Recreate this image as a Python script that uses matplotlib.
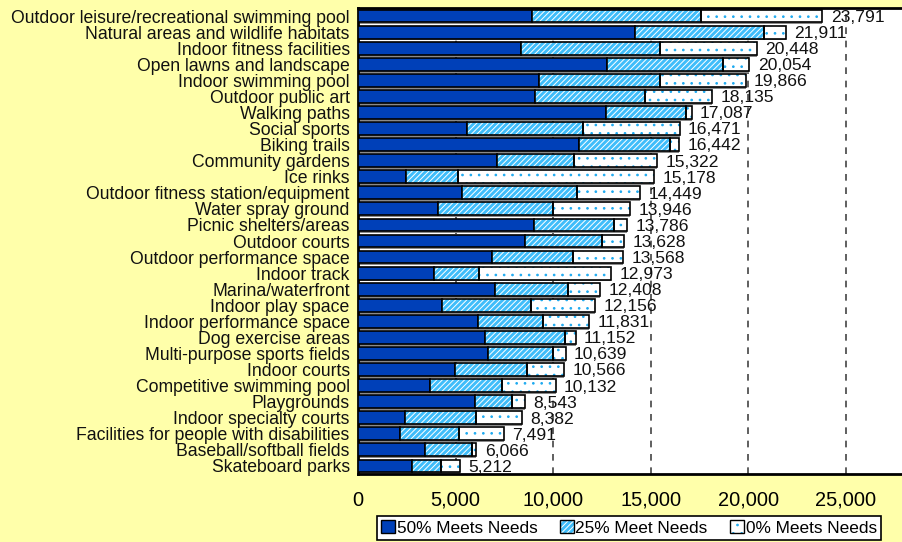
import matplotlib.pyplot as plt
from matplotlib.patches import Patch

plt.rcParams['font.family'] = ['Liberation Sans', 'DejaVu Sans']
plt.rcParams['hatch.linewidth'] = 0.7

categories = ["Outdoor leisure/recreational swimming pool", "Natural areas and wildlife habitats",
              "Indoor fitness facilities", "Open lawns and landscape", "Indoor swimming pool",
              "Outdoor public art", "Walking paths", "Social sports", "Biking trails",
              "Community gardens", "Ice rinks", "Outdoor fitness station/equipment",
              "Water spray ground", "Picnic shelters/areas", "Outdoor courts",
              "Outdoor performance space", "Indoor track", "Marina/waterfront",
              "Indoor play space", "Indoor performance space", "Dog exercise areas",
              "Multi-purpose sports fields", "Indoor courts", "Competitive swimming pool",
              "Playgrounds", "Indoor specialty courts", "Facilities for people with disabilities",
              "Baseball/softball fields", "Skateboard parks"]
meets50 = [8900, 14210, 8370, 12780, 9290, 9070, 12700, 5560, 11330, 7140, 2470, 5350, 4110, 9030,
           8570, 6880, 3870, 7000, 4280, 6140, 6530, 6650, 4990, 3700, 5980, 2400, 2130, 3410, 2780]
meets25 = [8690, 6600, 7120, 5930, 6190, 5620, 4100, 5960, 4670, 3920, 2660, 5850, 5880, 4110,
           3940, 4150, 2350, 3770, 4570, 3330, 4100, 3350, 3690, 3700, 1930, 3650, 3070, 2440, 1460]
meets0 = [6201, 1101, 4958, 1344, 4386, 3445, 287, 4951, 442, 4262, 10048, 3249, 3956, 646,
          1118, 2538, 6753, 1638, 3306, 2361, 522, 639, 1886, 2732, 633, 2332, 2291, 216, 972]
totals = [a + b + c for a, b, c in zip(meets50, meets25, meets0)]
series_names = ["50% Meets Needs", "25% Meet Needs", "0% Meets Needs"]

fig = plt.figure(figsize=(9.02, 5.42), dpi=100)
fig.patch.set_facecolor("#FFFFAA")
ax = fig.add_axes([358 / 902, 1 - 474 / 542, 1 - 358 / 902, 466 / 542])

y = list(range(len(categories)))
h = 0.8
# gray shadow under bars
ax.barh([v + 0.12 for v in y], totals, left=0, height=h, color="#8a8a8a", zorder=2)

left2 = meets50
left3 = [a + b for a, b in zip(meets50, meets25)]
ax.barh(y, meets50, height=h, color="#0040B8", edgecolor="black", linewidth=1.2, zorder=3)
ax.barh(y, meets25, left=left2, height=h, color="#3FBDFA", edgecolor="white", linewidth=0,
        hatch="//////", zorder=3)
ax.barh(y, meets25, left=left2, height=h, fill=False, edgecolor="black", linewidth=1.2, zorder=4)
ax.barh(y, meets0, left=left3, height=h, color="white", edgecolor="#1EAAF0", linewidth=0,
        hatch="..", zorder=3)
ax.barh(y, meets0, left=left3, height=h, fill=False, edgecolor="black", linewidth=1.2, zorder=4)

for yi, t in zip(y, totals):
    ax.annotate(f"{t:,}", xy=(t, yi), xytext=(6, -1), textcoords="offset points",
                va="center", ha="left", fontsize=12.6, color="#111111", zorder=5)

ax.set_xlim(0, 27870)
ax.set_ylim(len(categories) - 0.5, -0.5)
ax.set_yticks(y)
ax.set_yticklabels(categories, fontsize=12.7, color="#111111")
ax.set_xticks([0, 5000, 10000, 15000, 20000, 25000])
ax.set_xticklabels(["0", "5,000", "10,000", "15,000", "20,000", "25,000"], fontsize=14.4)
ax.tick_params(axis="y", length=0, pad=6)
ax.tick_params(axis="x", length=0, pad=12)
ax.xaxis.grid(True, linestyle=(0, (4, 4)), color="#444444", linewidth=1.2, zorder=1)
ax.set_axisbelow(True)
for s in ["top", "left", "bottom"]:
    ax.spines[s].set_linewidth(2)
    ax.spines[s].set_color("black")
ax.spines["right"].set_visible(False)

handles = [
    Patch(facecolor="#0040B8", edgecolor="black", linewidth=1),
    (Patch(facecolor="#3FBDFA", edgecolor="white", linewidth=0, hatch="//////"),
     Patch(fill=False, edgecolor="black", linewidth=1)),
    (Patch(facecolor="white", edgecolor="#1EAAF0", linewidth=0, hatch=".."),
     Patch(fill=False, edgecolor="black", linewidth=1)),
]
leg = fig.legend(handles, series_names, loc="upper left", bbox_to_anchor=(377 / 902, 1 - 516 / 542),
                 ncol=3, fontsize=12.4, frameon=True, fancybox=False, framealpha=1,
                 edgecolor="black", handlelength=0.8, handleheight=0.8, handletextpad=0.1,
                 columnspacing=1.3, borderpad=0.25, borderaxespad=0)
leg.get_frame().set_linewidth(1.2)

fig.savefig("out.png", dpi=100, facecolor=fig.get_facecolor())
